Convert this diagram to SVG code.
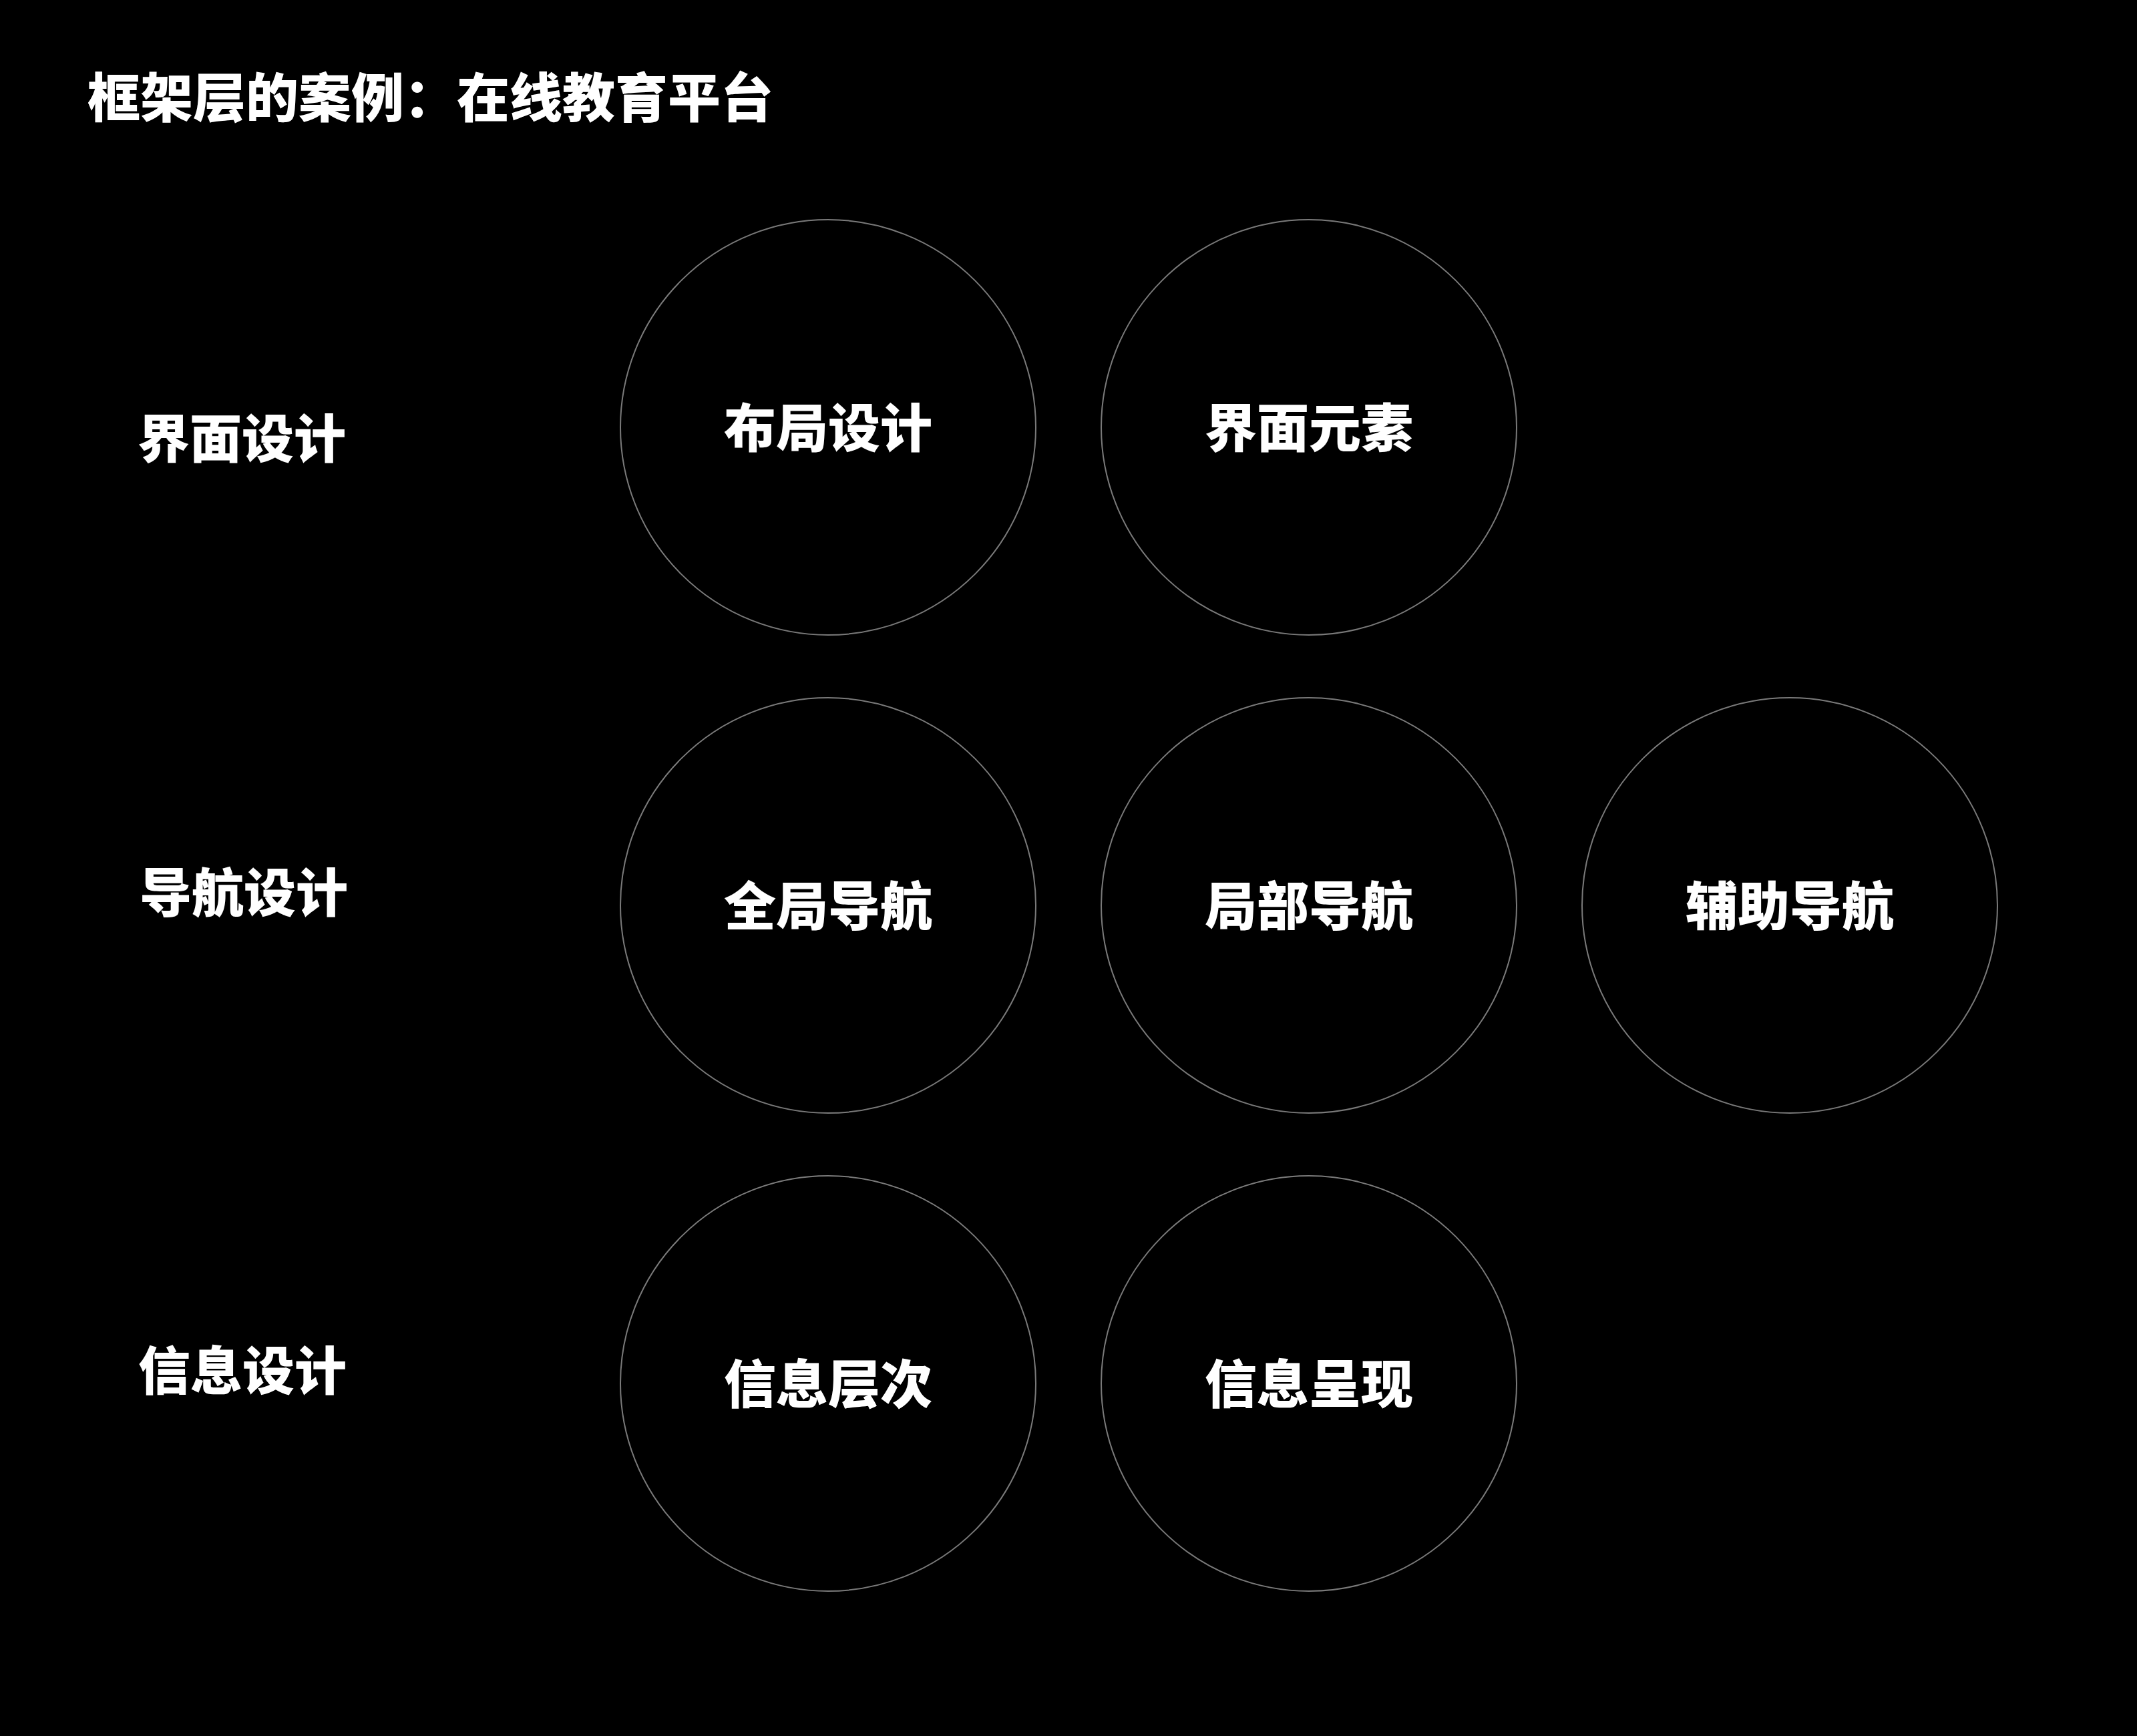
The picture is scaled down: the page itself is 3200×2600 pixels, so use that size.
<svg xmlns="http://www.w3.org/2000/svg" width="3200" height="2600" viewBox="0 0 3200 2600">
  <style>
    .t { font-family: "Noto Sans CJK SC", "Noto Sans", sans-serif; font-weight: 900; font-size: 78px; fill: #ffffff; }
    .title { font-size: 79px; }
    .c { fill: #000000; stroke: #7a7a7a; stroke-width: 2; }
    .m { text-anchor: middle; }
  </style>
  <rect x="0" y="0" width="3200" height="2600" fill="#000000"/>
  <g id="title">
    <text class="t title" x="131" y="176">框架层的案例：在线教育平台</text>
  </g>
  <g id="row-labels">
    <g id="label-ui"><text class="t" x="206" y="686">界面设计</text></g>
    <g id="label-nav"><text class="t" x="209" y="1366">导航设计</text></g>
    <g id="label-info"><text class="t" x="207" y="2082">信息设计</text></g>
  </g>
  <g id="connectors"></g>
  <g id="node-layout"><circle class="c" cx="1240" cy="640" r="311"/><text class="t m" x="1240" y="670">布局设计</text></g>
  <g id="node-elements"><circle class="c" cx="1960" cy="640" r="311"/><text class="t m" x="1960" y="670">界面元素</text></g>
  <g id="node-global-nav"><circle class="c" cx="1240" cy="1356" r="311"/><text class="t m" x="1240" y="1386">全局导航</text></g>
  <g id="node-local-nav"><circle class="c" cx="1960" cy="1356" r="311"/><text class="t m" x="1960" y="1386">局部导航</text></g>
  <g id="node-aux-nav"><circle class="c" cx="2680" cy="1356" r="311"/><text class="t m" x="2680" y="1386">辅助导航</text></g>
  <g id="node-info-hierarchy"><circle class="c" cx="1240" cy="2072" r="311"/><text class="t m" x="1240" y="2102">信息层次</text></g>
  <g id="node-info-present"><circle class="c" cx="1960" cy="2072" r="311"/><text class="t m" x="1960" y="2102">信息呈现</text></g>
</svg>
